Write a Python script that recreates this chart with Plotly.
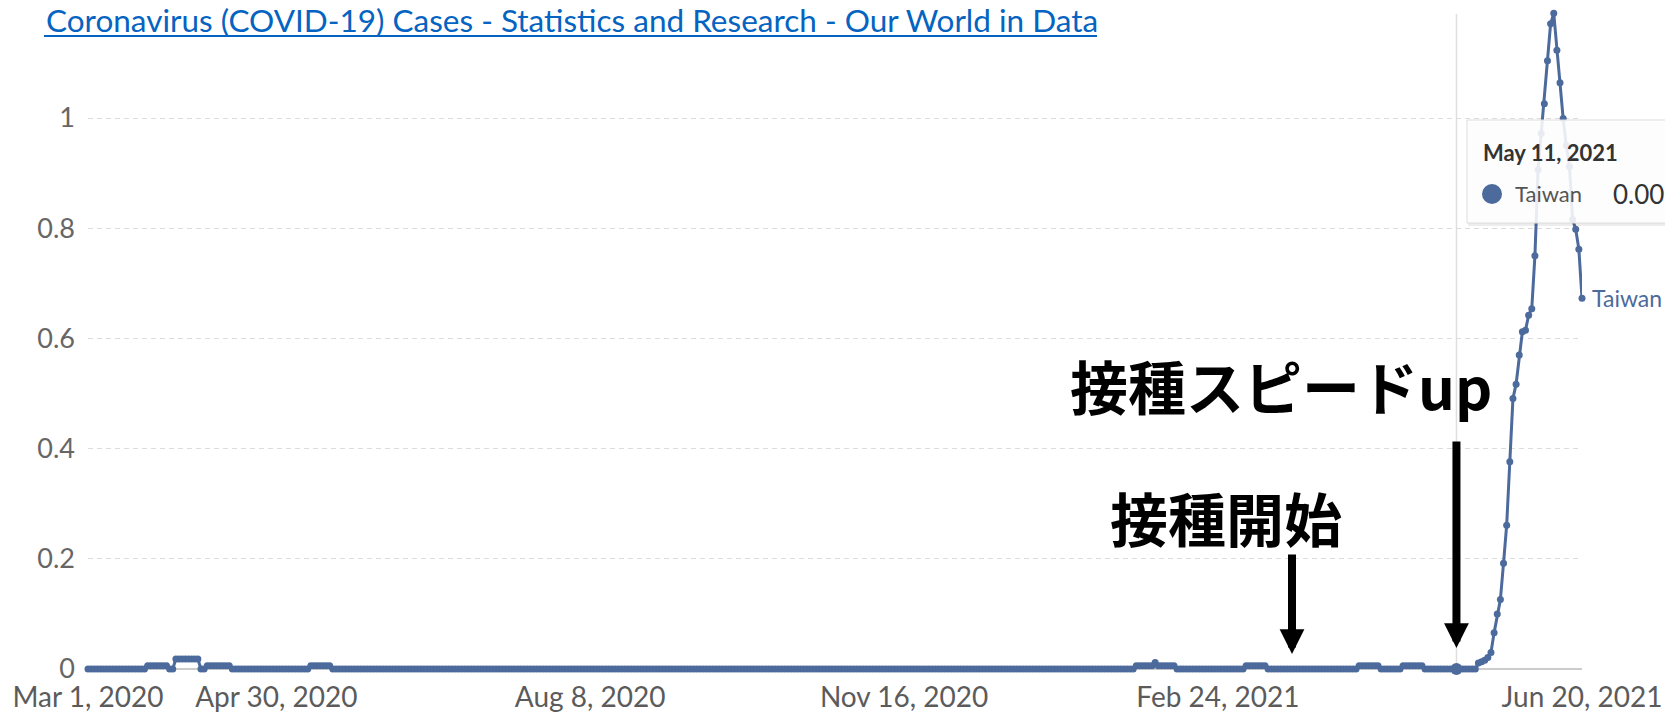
import plotly.graph_objects as go
import pandas as pd

# ---------------- data ----------------
start_date = "2020-03-01"
end_date = "2021-06-20"
country = "Taiwan"

# Mar 1 - May 17, 2020 (78 days)
values_spring_2020 = (
    [0.0] * 19 + [0.006] * 7 + [0.0] * 2 + [0.018] * 8 + [0.0] * 2
    + [0.006] * 8 + [0.0] * 25 + [0.006] * 7
)
# May 18, 2020 - Jan 28, 2021 (256 days, flat at zero)
values_quiet = [0.0] * 256
# Jan 29 - May 10, 2021 (102 days)
values_early_2021 = (
    [0.006] * 6 + [0.012] + [0.006] * 6 + [0.0] * 22 + [0.006] * 7
    + [0.0] * 29 + [0.006] * 7 + [0.0] * 7 + [0.006] * 7 + [0.0] * 10
)
# May 11 - Jun 20, 2021 (41 days)
values_outbreak = [
    0.0, 0.0, 0.0, 0.0, 0.0, 0.0, 0.0,
    0.011, 0.013, 0.016, 0.021, 0.030, 0.066, 0.100, 0.126, 0.192, 0.261,
    0.376, 0.491, 0.517, 0.570,
    0.612, 0.615, 0.642, 0.654, 0.750, 0.906, 0.972, 1.026, 1.104, 1.171,
    1.190, 1.123, 1.064, 0.999, 0.950, 0.912, 0.816, 0.798, 0.762, 0.673,
]

tick_dates = ["2020-03-01", "2020-04-30", "2020-08-08", "2020-11-16", "2021-02-24", "2021-06-20"]
tick_labels = ["Mar 1, 2020", "Apr 30, 2020", "Aug 8, 2020", "Nov 16, 2020", "Feb 24, 2021", "Jun 20, 2021"]
y_ticks = [0, 0.2, 0.4, 0.6, 0.8, 1]
y_tick_labels = ["0", "0.2", "0.4", "0.6", "0.8", "1"]

hover_date = "2021-05-11"
hover_label = "May 11, 2021"
hover_value_text = "0.00"
title_text = "Coronavirus (COVID-19) Cases - Statistics and Research - Our World in Data"
label_speedup = "接種スピードup"
label_start = "接種開始"

# ---------------- build ----------------
dates = pd.date_range(start_date, end_date, freq="D")
values = values_spring_2020 + values_quiet + values_early_2021 + values_outbreak
assert len(values) == len(dates), (len(values), len(dates))
series = pd.Series(values, index=dates)

W, H = 1665, 712
ML, MR, MT, MB = 88, 83, 0, 35
PW, PH = W - ML - MR, H - MT - MB
ZERO_PX = 669.0          # pixel row of value 0
UNIT_PX = 551.0          # pixels per 1.0
y_lo = -(MT + PH - ZERO_PX) / UNIT_PX
y_hi = (ZERO_PX - MT) / UNIT_PX


def px_x(px):
    return (px - ML) / PW


def px_y(py):
    return (MT + PH - py) / PH


BLUE = "#4C6A9C"

fig = go.Figure()
fig.add_trace(go.Scatter(
    x=series.index, y=series.values, mode="lines+markers",
    line=dict(color=BLUE, width=3),
    marker=dict(color=BLUE, size=7),
    name=country, showlegend=False, hoverinfo="skip", cliponaxis=False,
))
fig.add_trace(go.Scatter(
    x=[pd.Timestamp(hover_date)], y=[series[hover_date]], mode="markers",
    marker=dict(color=BLUE, size=12),
    showlegend=False, hoverinfo="skip", cliponaxis=False,
))

shapes = []
# hover guide line
shapes.append(dict(type="line", xref="x", yref="paper",
                   x0=hover_date, x1=hover_date, y0=px_y(669), y1=px_y(14),
                   line=dict(color="#dedede", width=1.5), layer="below"))
# tooltip shadow + box
shapes.append(dict(type="rect", xref="paper", yref="paper",
                   x0=px_x(1468), x1=px_x(1700), y0=px_y(226), y1=px_y(122),
                   fillcolor="rgba(0,0,0,0.07)", line=dict(width=0), layer="above"))
shapes.append(dict(type="rect", xref="paper", yref="paper",
                   x0=px_x(1467), x1=px_x(1700), y0=px_y(223), y1=px_y(120),
                   fillcolor="rgba(255,255,255,0.88)", line=dict(color="#dcdcdc", width=1),
                   layer="above"))
shapes.append(dict(type="circle", xref="paper", yref="paper",
                   x0=px_x(1482), x1=px_x(1502), y0=px_y(204), y1=px_y(184),
                   fillcolor=BLUE, line=dict(width=0), layer="above"))
# title underline
shapes.append(dict(type="line", xref="paper", yref="paper",
                   x0=px_x(44), x1=px_x(1097), y0=px_y(36), y1=px_y(36),
                   line=dict(color="#0563C1", width=2)))

annotations = []
annotations.append(dict(xref="paper", yref="paper", x=px_x(44), y=px_y(20),
                        xanchor="left", yanchor="middle", showarrow=False,
                        text=title_text,
                        font=dict(family="Lato", size=31.5, color="#0563C1")))
# tooltip text
annotations.append(dict(xref="paper", yref="paper", x=px_x(1481), y=px_y(152),
                        xanchor="left", yanchor="middle", showarrow=False,
                        text="<b>" + hover_label + "</b>",
                        font=dict(family="Lato", size=22, color="#333333")))
annotations.append(dict(xref="paper", yref="paper", x=px_x(1513), y=px_y(194),
                        xanchor="left", yanchor="middle", showarrow=False,
                        text=country, font=dict(family="Lato", size=22, color="#555555")))
annotations.append(dict(xref="paper", yref="paper", x=px_x(1611), y=px_y(194),
                        xanchor="left", yanchor="middle", showarrow=False,
                        text=hover_value_text, font=dict(family="Lato", size=26, color="#333333")))
# end-of-line label
annotations.append(dict(xref="x", yref="y", x=series.index[-1], y=series.values[-1],
                        xanchor="left", yanchor="middle", xshift=8, showarrow=False,
                        text=country, font=dict(family="Lato", size=23, color=BLUE)))
# Japanese labels
annotations.append(dict(xref="paper", yref="paper", x=px_x(1281), y=px_y(385),
                        xanchor="center", yanchor="middle", showarrow=False,
                        text="<b>" + label_speedup + "</b>",
                        font=dict(family="Noto Sans CJK JP", size=58, color="#000000")))
annotations.append(dict(xref="paper", yref="paper", x=px_x(1226), y=px_y(517),
                        xanchor="center", yanchor="middle", showarrow=False,
                        text="<b>" + label_start + "</b>",
                        font=dict(family="Noto Sans CJK JP", size=58, color="#000000")))
# arrows
annotations.append(dict(xref="x", yref="paper", x=hover_date, y=px_y(648),
                        ax=0, ay=-(648 - 440), showarrow=True, text="",
                        arrowhead=2, arrowsize=0.62, arrowwidth=8, arrowcolor="#000000",
                        standoff=0))
annotations.append(dict(xref="paper", yref="paper", x=px_x(1292), y=px_y(654),
                        ax=0, ay=-(654 - 553), showarrow=True, text="",
                        arrowhead=2, arrowsize=0.62, arrowwidth=8, arrowcolor="#000000",
                        standoff=0))

fig.update_layout(
    width=W, height=H,
    margin=dict(l=ML, r=MR, t=MT, b=MB, pad=0, autoexpand=False),
    paper_bgcolor="white", plot_bgcolor="white",
    shapes=shapes, annotations=annotations,
    font=dict(family="Lato"),
    xaxis=dict(
        range=[start_date, end_date], tickvals=tick_dates, ticktext=tick_labels,
        showgrid=False, zeroline=False, showline=False, ticks="",
        tickfont=dict(family="Lato", size=28, color="#5b5b5b"),
        ticklabelstandoff=1, automargin=False,
    ),
    yaxis=dict(
        range=[y_lo, y_hi], tickvals=y_ticks, ticktext=y_tick_labels,
        showgrid=True, gridcolor="#dcdcdc", gridwidth=1, griddash="5px,4px",
        zeroline=True, zerolinecolor="#cccccc", zerolinewidth=1.5,
        showline=False, ticks="",
        tickfont=dict(family="Lato", size=27, color="#666666"),
        ticklabelstandoff=12, automargin=False,
    ),
)

fig.write_html(
    "out.html",
    config={"displayModeBar": False},
    post_script="document.body.style.margin='0';document.body.style.overflow='hidden';",
)
